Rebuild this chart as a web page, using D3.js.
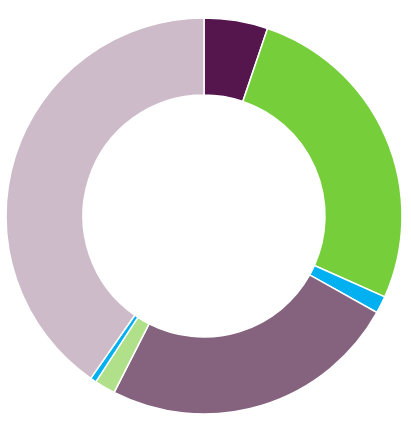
<!DOCTYPE html>
<html>
<head>
<meta charset="utf-8">
<script src="https://cdn.jsdelivr.net/npm/d3@7"></script>
<style>
  html, body { margin: 0; padding: 0; background: #fff; }
</style>
</head>
<body>
<svg id="chart" width="411" height="430"></svg>
<script>
// slice shares in percent, clockwise from 12 o'clock
var categories = ["A", "B", "C", "D", "E", "F", "G"];
var values = [5.2, 26.5, 1.4, 24.4, 1.7, 0.5, 40.3];
var colors = ["#55154d", "#76cf3a", "#00b0f0", "#85637f", "#b0e08a", "#00b0f0", "#cdbbc9"];

var svg = d3.select("#chart");
var cx = 204, cy = 216,
    outerR = 198, innerR = 121;

var color = d3.scaleOrdinal().domain(categories).range(colors);

var pie = d3.pie().sort(null).value(function(d){ return d.value; });
var arc = d3.arc().innerRadius(innerR).outerRadius(outerR);

var data = categories.map(function(c, i){ return {name: c, value: values[i]}; });

var g = svg.append("g").attr("transform", "translate(" + cx + "," + cy + ")");

g.selectAll("path.slice").data(pie(data)).enter()
    .append("path")
    .attr("class", "slice")
    .attr("d", arc)
    .attr("fill", function(d){ return color(d.data.name); })
    .attr("stroke", "#fff")
    .attr("stroke-width", 1.5);
</script>
</body>
</html>
